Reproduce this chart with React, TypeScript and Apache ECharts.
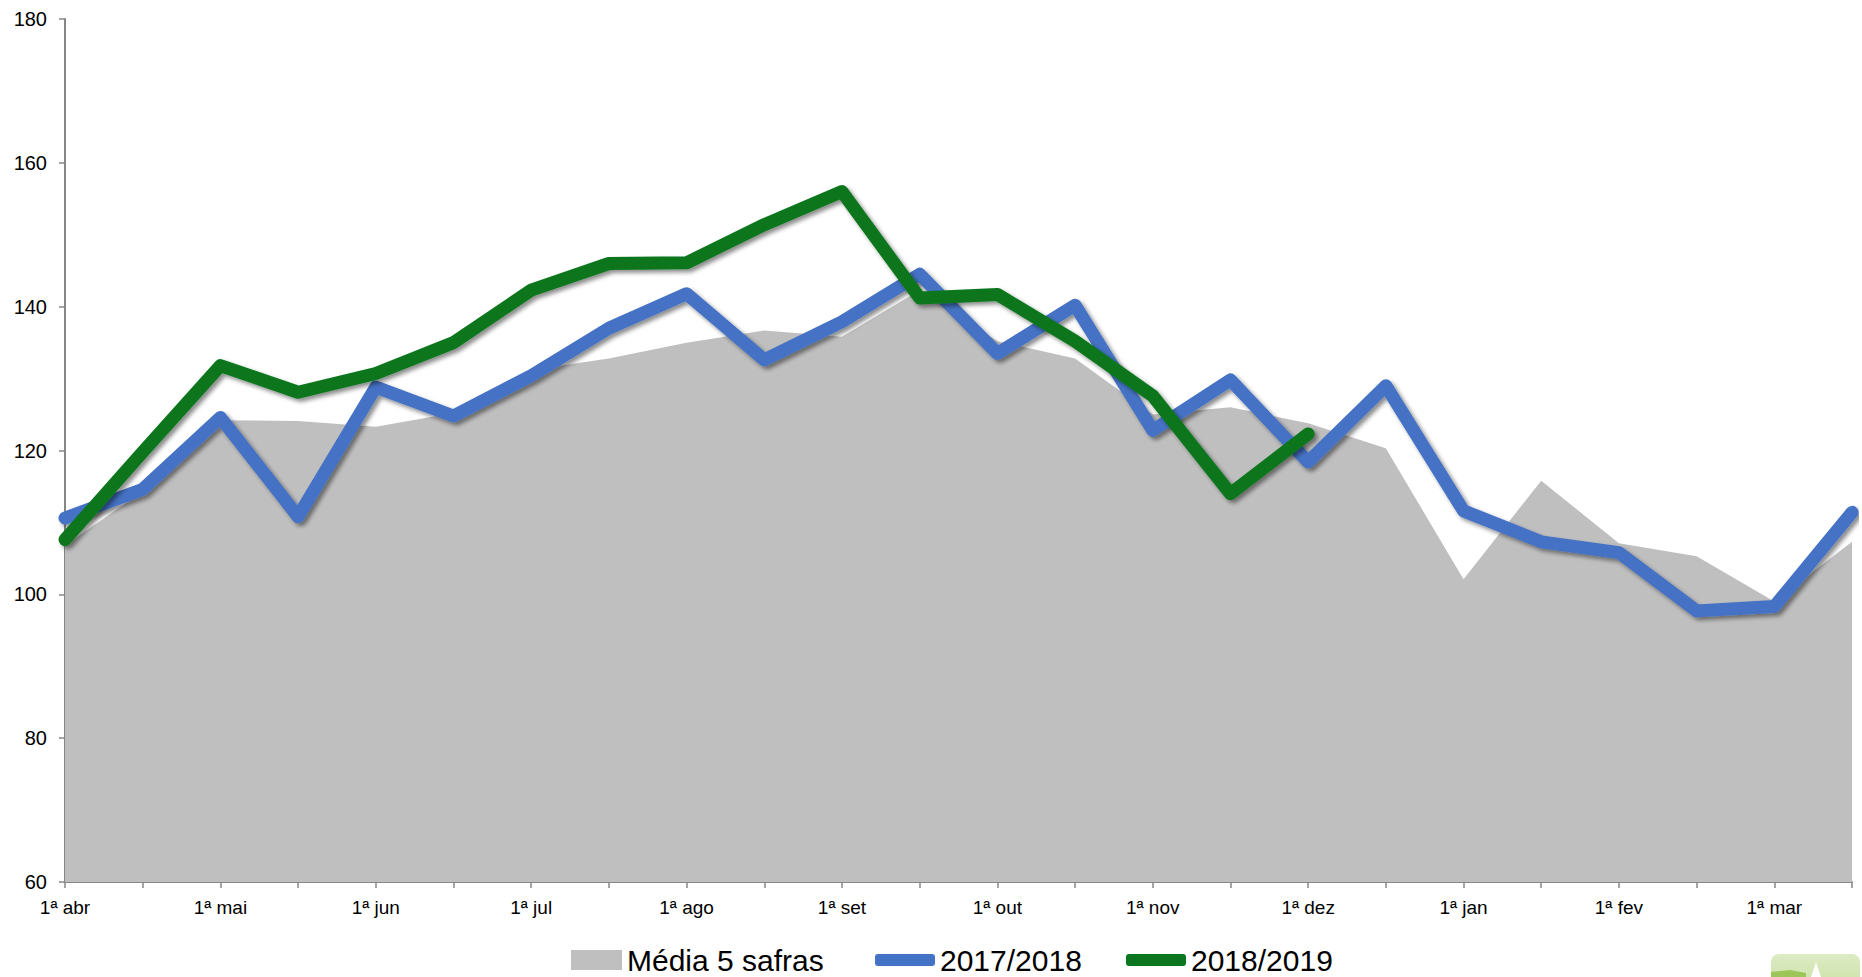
import React, { useEffect, useRef } from "react";
import * as echarts from "echarts";

const categories = [
  "1ª abr", "2ª abr", "1ª mai", "2ª mai", "1ª jun", "2ª jun",
  "1ª jul", "2ª jul", "1ª ago", "2ª ago", "1ª set", "2ª set",
  "1ª out", "2ª out", "1ª nov", "2ª nov", "1ª dez", "2ª dez",
  "1ª jan", "2ª jan", "1ª fev", "2ª fev", "1ª mar", "2ª mar",
];

const media5Safras = [
  106.8, 114.3, 124.2, 124.1, 123.3, 125.2, 131.2, 132.8, 135.0, 136.7, 135.8, 142.3,
  135.2, 132.8, 125.0, 126.0, 123.8, 120.3, 102.1, 115.8, 107.1, 105.3, 99.0, 107.3,
];

const safra2017 = [
  110.6, 114.6, 124.6, 110.8, 128.8, 124.8, 130.4, 137.0, 141.8, 132.6, 137.9, 144.5,
  133.5, 140.2, 122.8, 129.8, 118.4, 129.0, 111.6, 107.3, 105.8, 97.7, 98.3, 111.4,
];

const safra2018 = [
  107.6, 119.8, 131.8, 128.1, 130.7, 135.0, 142.3, 146.0, 146.1, 151.4, 156.0, 141.2,
  141.7, 135.2, 127.6, 114.0, 122.3,
];

const yMin = 60;
const yMax = 180;
const yStep = 20;

const FONT = "'Liberation Sans', Arial, sans-serif";

export default function App() {
  const ref = useRef<HTMLDivElement>(null);

  useEffect(() => {
    if (!ref.current) return;
    const chart = echarts.init(ref.current, undefined, { renderer: "svg" });
    const shadow = {
      shadowColor: "rgba(0,0,0,0.45)",
      shadowBlur: 4,
      shadowOffsetX: 3,
      shadowOffsetY: 3,
    };
    const legendText = { fontSize: 30, lineHeight: 30, color: "#000", fontFamily: FONT };
    chart.setOption({
      animation: false,
      backgroundColor: "#ffffff",
      grid: { left: 65, right: 10, top: 19, bottom: 95, containLabel: false },
      legend: [
        {
          left: 571,
          top: 945,
          padding: 0,
          data: [{ name: "Média 5 safras", icon: "rect" }],
          itemWidth: 51,
          itemHeight: 20,
          textStyle: legendText,
          selectedMode: false,
        },
        {
          left: 875,
          top: 945,
          padding: 0,
          data: [{ name: "2017/2018", icon: "roundRect" }],
          itemWidth: 60,
          itemHeight: 12,
          textStyle: legendText,
          selectedMode: false,
        },
        {
          left: 1126,
          top: 945,
          padding: 0,
          data: [{ name: "2018/2019", icon: "roundRect" }],
          itemWidth: 60,
          itemHeight: 12,
          textStyle: legendText,
          selectedMode: false,
        },
      ],
      xAxis: {
        type: "category",
        data: categories,
        boundaryGap: false,
        axisLine: { lineStyle: { color: "#868686", width: 2 } },
        axisTick: { show: true, interval: 0, length: 6, lineStyle: { color: "#868686", width: 1.5 } },
        axisLabel: {
          interval: 1,
          margin: 16,
          fontSize: 19,
          color: "#000",
          fontFamily: FONT,
        },
        splitLine: { show: false },
      },
      yAxis: {
        type: "value",
        min: yMin,
        max: yMax,
        interval: yStep,
        axisLine: { show: true, lineStyle: { color: "#868686", width: 2 } },
        axisTick: { show: true, length: 6, lineStyle: { color: "#868686", width: 1.5 } },
        axisLabel: { margin: 18, fontSize: 20, color: "#000", fontFamily: FONT },
        splitLine: { show: false },
      },
      series: [
        {
          name: "Média 5 safras",
          type: "line",
          data: media5Safras,
          showSymbol: false,
          symbol: "none",
          lineStyle: { width: 0, color: "#BFBFBF" },
          itemStyle: { color: "#BFBFBF" },
          areaStyle: { color: "#BFBFBF", opacity: 1, origin: "start" },
          z: 1,
        },
        {
          name: "2017/2018",
          type: "line",
          data: safra2017,
          showSymbol: false,
          symbol: "none",
          itemStyle: { color: "#4472C4" },
          lineStyle: { width: 13, color: "#4472C4", join: "round", cap: "round", ...shadow },
          z: 2,
        },
        {
          name: "2018/2019",
          type: "line",
          data: safra2018,
          showSymbol: false,
          symbol: "none",
          itemStyle: { color: "#0A761E" },
          lineStyle: { width: 13, color: "#0A761E", join: "round", cap: "round", ...shadow },
          z: 3,
        },
      ],
      graphic: [
        {
          type: "rect",
          left: 1771,
          top: 954,
          shape: { width: 89, height: 44, r: 8 },
          style: {
            fill: new echarts.graphic.LinearGradient(0, 0, 0, 1, [
              { offset: 0, color: "#DDEBC4" },
              { offset: 1, color: "#C4DE9C" },
            ]),
          },
          z: 10,
        },
        {
          type: "polygon",
          shape: { points: [[1816, 962], [1811, 977], [1821, 977]] },
          style: { fill: "#ffffff" },
          z: 11,
        },
        {
          type: "polygon",
          shape: { points: [[1771, 972], [1790, 970], [1806, 973], [1806, 977], [1771, 977]] },
          style: { fill: "#9CC65A" },
          z: 11,
        },
      ],
    });
    return () => chart.dispose();
  }, []);

  return (
    <div
      ref={ref}
      style={{ width: 1862, height: 977, position: "absolute", left: 0, top: 0, overflow: "hidden" }}
    />
  );
}
